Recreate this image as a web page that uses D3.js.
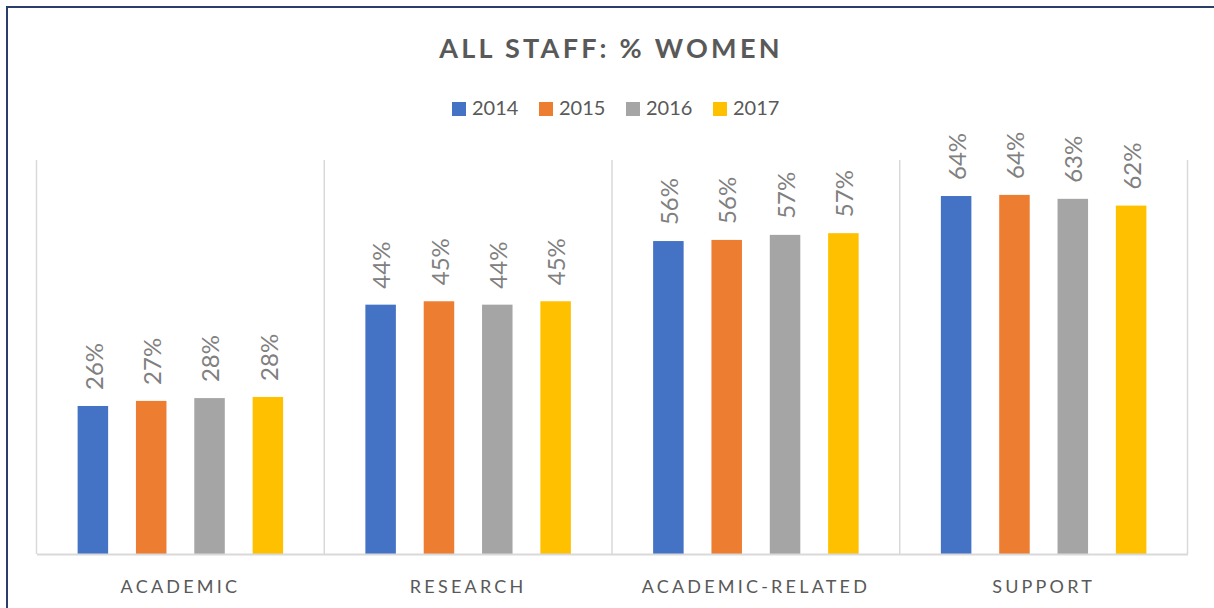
<!DOCTYPE html>
<html>
<head>
<meta charset="utf-8">
<script src="https://cdn.jsdelivr.net/npm/d3@7"></script>
<style>
  html, body { margin: 0; padding: 0; background: #fff; }
  svg { display: block; }
</style>
</head>
<body>
<svg id="chart" width="1214" height="608"></svg>
<script>
const categories = ["ACADEMIC", "RESEARCH", "ACADEMIC-RELATED", "SUPPORT"];
const years = ["2014", "2015", "2016", "2017"];
const v2014 = [26.3, 44.3, 55.6, 63.6];
const v2015 = [27.2, 44.9, 55.8, 63.8];
const v2016 = [27.7, 44.3, 56.7, 63.1];
const v2017 = [27.9, 44.9, 57.0, 61.9];
const colors = ["#4472C4", "#ED7D31", "#A5A5A5", "#FFC000"];
const yMax = 70;

const series = [v2014, v2015, v2016, v2017];
const svg = d3.select("#chart");
const W = 1214, H = 608;
const FONT = "Lato, 'Open Sans', sans-serif";

svg.append("rect").attr("width", W).attr("height", H).attr("fill", "#fff");
// border
svg.append("rect")
  .attr("x", 7).attr("y", 7).attr("width", W + 20).attr("height", H + 20)
  .attr("fill", "none").attr("stroke", "#2B3E6B").attr("stroke-width", 2);

const plot = { left: 36.5, right: 1187.5, top: 160, bottom: 554 };

const x0 = d3.scaleBand().domain(categories).range([plot.left, plot.right]).paddingInner(0).paddingOuter(0);
const x1 = d3.scaleBand().domain(years).range([0, x0.bandwidth()]).paddingInner(0.477).paddingOuter(0.705);
const y = d3.scaleLinear().domain([0, yMax]).range([plot.bottom, plot.top]);

// separators
const edges = categories.map(c => x0(c)).concat([x0(categories[categories.length - 1]) + x0.bandwidth()]);
svg.append("g").selectAll("line").data(edges).join("line")
  .attr("x1", d => d).attr("x2", d => d)
  .attr("y1", y(yMax)).attr("y2", y(0))
  .attr("stroke", "#D9D9D9").attr("stroke-width", 1.5);

// bars
const rows = [];
categories.forEach((c, i) => years.forEach((yr, j) => rows.push({ c, yr, j, v: series[j][i] })));

svg.append("g").selectAll("rect").data(rows).join("rect")
  .attr("x", d => x0(d.c) + x1(d.yr))
  .attr("y", d => y(d.v))
  .attr("width", x1.bandwidth())
  .attr("height", d => y(0) - y(d.v))
  .attr("fill", d => colors[d.j]);

// value labels
svg.append("g").selectAll("text").data(rows).join("text")
  .attr("transform", d => `translate(${x0(d.c) + x1(d.yr) + x1.bandwidth() / 2 + 1},${y(d.v) - 16}) rotate(-90)`)
  .attr("dy", "0.36em")
  .attr("text-anchor", "start")
  .attr("font-family", FONT)
  .attr("font-size", 24)
  .attr("fill", "#808080")
  .text(d => Math.round(d.v) + "%");

// x axis
const xAxis = d3.axisBottom(x0).tickSize(0).tickPadding(0);
const gx = svg.append("g").attr("transform", `translate(0,${y(0)})`).call(xAxis);
gx.select(".domain").attr("stroke", "#D9D9D9").attr("stroke-width", 2);
gx.selectAll(".tick text")
  .attr("y", 39).attr("dy", 0)
  .attr("font-family", FONT)
  .attr("font-size", 18)
  .attr("letter-spacing", "3.2px")
  .attr("fill", "#595959");

// title
svg.append("text")
  .attr("x", 611).attr("y", 58)
  .attr("text-anchor", "middle")
  .attr("font-family", FONT)
  .attr("font-weight", "bold")
  .attr("font-size", 27)
  .attr("letter-spacing", "3.3px")
  .attr("fill", "#595959")
  .text("ALL STAFF: % WOMEN");

// legend
const legendX = d3.scalePoint().domain(years).range([452, 713]);
const lg = svg.append("g").selectAll("g").data(years).join("g")
  .attr("transform", d => `translate(${legendX(d)},102)`);
lg.append("rect").attr("width", 14).attr("height", 14).attr("fill", (d, i) => colors[i]);
lg.append("text")
  .attr("x", 20).attr("y", 12.5)
  .attr("font-family", FONT)
  .attr("font-size", 20)
  .attr("fill", "#595959")
  .text(d => d);
</script>
</body>
</html>
